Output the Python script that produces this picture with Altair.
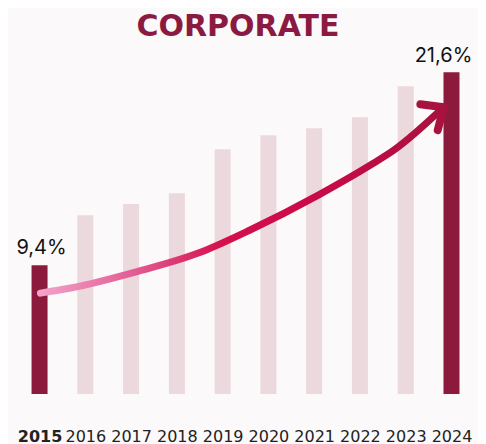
import altair as alt
import pandas as pd

years = [2015, 2016, 2017, 2018, 2019, 2020, 2021, 2022, 2023, 2024]
values = [9.4, 12.56, 13.26, 13.95, 16.73, 17.62, 18.06, 18.75, 20.71, 21.6]
highlight = [True, False, False, False, False, False, False, False, False, True]
labels = ["9,4%", "", "", "", "", "", "", "", "", "21,6%"]

curve_x = [2015.02, 2015.68, 2017.09, 2018.53, 2019.60, 2021.09, 2022.23, 2022.74, 2023.83]
curve_y = [7.63, 7.95, 8.96, 10.23, 11.62, 13.83, 15.73, 16.67, 19.39]

head_x = [2023.32, 2023.83, 2023.70, 2023.83]
head_y = [19.58, 19.39, 17.94, 19.39]
head_seg = ["a", "a", "b", "b"]

title_text = ["CORPORATE"]

DARK = "#8C1A3C"
LIGHT = "#EBD9DE"
BG = "#FCF9FA"

bars_df = pd.DataFrame({"year": years, "value": values, "hl": highlight, "label": labels})
curve_df = pd.DataFrame({"year": curve_x, "value": curve_y, "order": list(range(len(curve_x)))})
head_df = pd.DataFrame({"year": head_x, "value": head_y, "seg": head_seg, "order": [0, 1, 0, 1]})
title_df = pd.DataFrame({"t": title_text})

xscale = alt.Scale(domain=[2014.42, 2024.47], nice=False, zero=False)
yscale = alt.Scale(domain=[1.25, 22.5], nice=False, zero=False)

x_axis = alt.Axis(
    values=years, format="d", title=None, ticks=False, domain=False, grid=False,
    labelFontSize=16, labelFont="DejaVu Sans", labelColor="#222222",
    labelBaseline="top", labelPadding=34, labelFlush=False, labelOverlap=False,
    labelFontWeight={"condition": {"test": "datum.value == 2015", "value": "bold"}, "value": "normal"},
)

base_x = alt.X("year:Q", scale=xscale, axis=x_axis)
base_y = alt.Y("value:Q", scale=yscale, axis=None)

bars = alt.Chart(bars_df).mark_bar(size=16).encode(
    x=base_x,
    y=base_y,
    y2=alt.datum(1.25),
    color=alt.condition("datum.hl", alt.value(DARK), alt.value(LIGHT)),
)

lab_first = alt.Chart(bars_df).transform_filter("datum.year == 2015").mark_text(
    baseline="bottom", dy=-7, dx=2, fontSize=20, font="Inter", color="#111111"
).encode(x=alt.X("year:Q", scale=xscale), y=alt.Y("value:Q", scale=yscale), text="label:N")

lab_last = alt.Chart(bars_df).transform_filter("datum.year == 2024").mark_text(
    baseline="bottom", dy=-6, dx=-8, fontSize=20, font="Inter", color="#111111"
).encode(x=alt.X("year:Q", scale=xscale), y=alt.Y("value:Q", scale=yscale), text="label:N")

grad = alt.LinearGradient(
    gradient="linear",
    x1=0, y1=0, x2=1, y2=0,
    stops=[
        alt.GradientStop(offset=0, color="#F2A3CA"),
        alt.GradientStop(offset=0.25, color="#E2568E"),
        alt.GradientStop(offset=0.45, color="#D5104D"),
        alt.GradientStop(offset=0.75, color="#C40A47"),
        alt.GradientStop(offset=1, color="#A8123F"),
    ],
)

curve = alt.Chart(curve_df).mark_line(
    interpolate="monotone", strokeWidth=7, strokeCap="round", stroke=grad
).encode(x=alt.X("year:Q", scale=xscale), y=alt.Y("value:Q", scale=yscale), order="order:Q")

head = alt.Chart(head_df).mark_line(
    strokeWidth=8, strokeCap="round", color="#A8123F"
).encode(
    x=alt.X("year:Q", scale=xscale), y=alt.Y("value:Q", scale=yscale),
    detail="seg:N", order="order:Q",
)

title = alt.Chart(title_df).mark_text(
    fontSize=30, font="DejaVu Sans", fontWeight="bold", color="#8B1A42",
    align="center", baseline="alphabetic",
).encode(x=alt.value(230), y=alt.value(-22), text="t:N")

chart = alt.layer(bars, curve, head, lab_first, lab_last, title).properties(
    width=470,
    height=336,
    autosize=alt.AutoSizeParams(type="none"),
    padding={"top": 50, "left": 0, "right": 0, "bottom": 50},
    background=BG,
).configure_view(stroke=None)

chart.save("out.html", embed_options={"renderer": "svg", "actions": False})
